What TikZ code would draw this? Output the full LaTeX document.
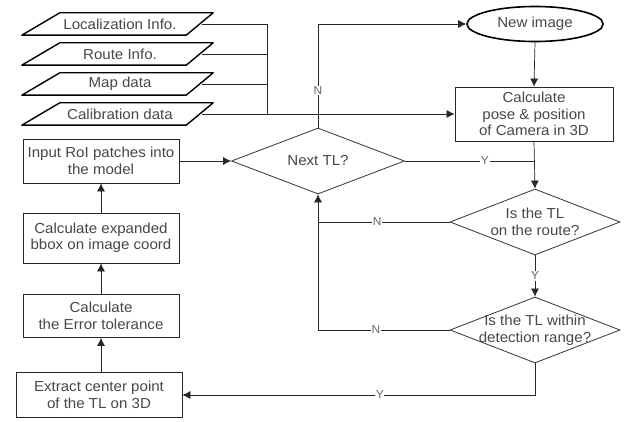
\documentclass[tikz,border=0pt]{standalone}
\usepackage{fontspec}
\setmainfont{Liberation Sans}[FakeStretch=1.04]
\usetikzlibrary{shapes.geometric,arrows.meta}
\tikzset{
  base/.style={font=\fontsize{14.5}{16.5}\selectfont, text=black!72, align=center, inner sep=1pt},
  box/.style={base, draw=black!85, line width=0.8pt, minimum width=156pt},
  datain/.style={base, minimum width=164pt, minimum height=22pt},
  paraedge/.style={draw=black, line width=1.4pt, line join=round},
  term/.style={base, draw=black, line width=1.6pt, ellipse, minimum width=136pt, minimum height=35pt},
  dia/.style={draw=black!80, line width=0.8pt, diamond, inner sep=0pt},
  flow/.style={draw=black!85, line width=0.7pt},
  arr/.style={flow, -{Latex[length=8pt,width=8pt]}},
  yn/.style={font=\fontsize{11.5}{12}\selectfont, text=black!60, fill=white, inner sep=0.6pt}
}
\begin{document}
\begin{tikzpicture}[x=1pt, y=-1pt]
\useasboundingbox[fill=white] (0,0) rectangle (629,422);

% input data (parallelograms)
\node[datain] (loc)   at (120,24)  {Localization Info.};
\node[datain] (route) at (120,54)  {Route Info.};
\node[datain] (map)   at (120,84)  {Map data};
\node[datain] (calib) at (120,114) {Calibration data};
\foreach \n in {loc,route,map,calib}{
  \draw[paraedge] ([xshift=22pt]\n.north west) -- ([xshift=11pt]\n.north east)
    -- ([xshift=-16pt]\n.south east) -- ([xshift=-16pt]\n.south west) -- cycle;
}

% main process
\node[term] (img)  at (535,24)  {New image};
\node[box, minimum width=158pt, minimum height=54pt] (pose) at (534,114)
  {Calculate\\pose \& position\\of Camera in 3D};

\node[dia, minimum width=173pt, minimum height=66pt] (nt) at (318,161) {};
\node[base] at (nt) {Next TL?};
\node[dia, minimum width=170pt, minimum height=66pt] (q2) at (535,222) {};
\node[base] at (q2) {Is the TL\\on the route?};
\node[dia, minimum width=170pt, minimum height=66pt] (q3) at (535,330) {};
\node[base] at (q3) {Is the TL within\\detection range?};

% left column
\node[box, minimum height=44pt] (inp) at (101,161) {Input RoI patches into\\the model};
\node[box, minimum height=50pt] (exp) at (101,238) {Calculate expanded\\bbox on image coord};
\node[box, minimum height=43pt] (err) at (101,316) {Calculate\\the Error tolerance};
\node[box, minimum width=166pt, minimum height=45pt] (ext) at (99,395) {Extract center point\\of the TL on 3D};

% data bus
\coordinate (bus) at (267,114);
\draw[flow] (loc.east) -| (bus);
\draw[flow] (route.east) -- (route.east -| bus);
\draw[flow] (map.east) -- (map.east -| bus);
\draw[arr] (calib.east) -- (calib.east -| pose.west);

% connectors
\draw[arr] (nt.north) |- (img.west) node[yn, pos=0.18] {N};
\draw[arr] (img.south) -- (pose.north);
\draw[arr] (pose.south) -- (q2.north);
\draw[flow] (nt.east) -- (nt.east -| pose.south) node[yn, pos=0.62] {Y};
\draw[arr] (q2.south) -- (q3.north) node[yn, midway] {Y};
\draw[flow] (q2.west) -- (q2.west -| nt.south) node[yn, pos=0.55] {N};
\draw[arr] (q3.west) -| (nt.south) node[yn, pos=0.28] {N};
\draw[arr] (q3.south) |- (ext.east) node[yn, pos=0.72] {Y};
\draw[arr] (inp.east) -- (nt.west);
\draw[arr] (ext.north -| err.south) -- (err.south);
\draw[arr] (err.north) -- (exp.south);
\draw[arr] (exp.north) -- (inp.south);
\end{tikzpicture}
\end{document}
